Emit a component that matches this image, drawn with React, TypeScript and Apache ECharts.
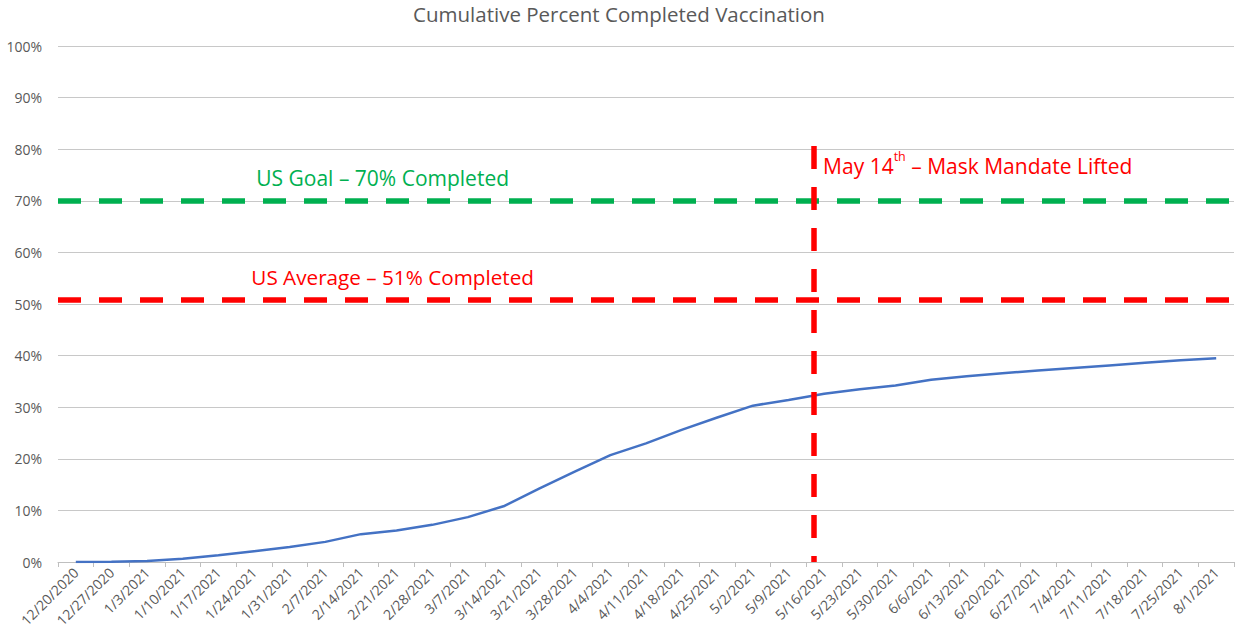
import React, { useEffect, useRef } from "react";
import * as echarts from "echarts";

const categories = [
  "12/20/2020", "12/27/2020", "1/3/2021", "1/10/2021", "1/17/2021", "1/24/2021", "1/31/2021",
  "2/7/2021", "2/14/2021", "2/21/2021", "2/28/2021", "3/7/2021", "3/14/2021", "3/21/2021",
  "3/28/2021", "4/4/2021", "4/11/2021", "4/18/2021", "4/25/2021", "5/2/2021", "5/9/2021",
  "5/16/2021", "5/23/2021", "5/30/2021", "6/6/2021", "6/13/2021", "6/20/2021", "6/27/2021",
  "7/4/2021", "7/11/2021", "7/18/2021", "7/25/2021", "8/1/2021",
];

const completedPct = [
  0, 0.05, 0.2, 0.65, 1.3, 2.1, 2.9, 3.9, 5.4, 6.1, 7.2, 8.7, 10.8, 14.2, 17.5, 20.7, 23.0,
  25.6, 28.0, 30.3, 31.4, 32.6, 33.5, 34.2, 35.3, 36.0, 36.6, 37.1, 37.6, 38.1, 38.6, 39.1, 39.5,
];

const yTicks = [0, 10, 20, 30, 40, 50, 60, 70, 80, 90, 100];

const goalPct = 70;
const averagePct = 50.8;
const maskLiftedIndex = 20 + 5 / 7; // May 14 lies between 5/9 and 5/16
const maskLineTop = 80.6;

const titleText = "Cumulative Percent Completed Vaccination";
const goalText = "US Goal – 70% Completed";
const averageText = "US Average – 51% Completed";

const FONT = "'Open Sans', sans-serif";

export default function App() {
  const ref = useRef<HTMLDivElement>(null);

  useEffect(() => {
    if (!ref.current) return;
    const chart = echarts.init(ref.current, undefined, { renderer: "svg" });
    chart.setOption({
      animation: false,
      backgroundColor: "#ffffff",
      title: {
        text: titleText,
        left: "center",
        top: -2,
        textStyle: { fontFamily: FONT, fontSize: 20.5, fontWeight: "normal", color: "#595959" },
      },
      grid: { left: 58, right: 4, top: 46, bottom: 81, containLabel: false },
      xAxis: [
        {
          type: "category",
          data: categories,
          boundaryGap: true,
          axisLine: { lineStyle: { color: "#bfbfbf", width: 1 } },
          axisTick: { show: true, length: 5, lineStyle: { color: "#bfbfbf" } },
          axisLabel: {
            rotate: 45,
            interval: 0,
            margin: 8,
            fontFamily: FONT,
            fontSize: 14,
            color: "#595959",
          },
          splitLine: { show: false },
        },
        {
          type: "value",
          min: -0.5,
          max: categories.length - 0.5,
          show: false,
          splitLine: { show: false },
        },
      ],
      yAxis: {
        type: "value",
        min: yTicks[0],
        max: yTicks[yTicks.length - 1],
        interval: 10,
        axisLine: { show: false },
        axisTick: { show: false },
        axisLabel: {
          formatter: "{value}%",
          fontFamily: FONT,
          fontSize: 14,
          color: "#595959",
          margin: 16,
        },
        splitLine: { lineStyle: { color: "#c8c8c8", width: 1 } },
      },
      series: [
        {
          type: "line",
          data: completedPct,
          symbol: "none",
          lineStyle: { color: "#4472C4", width: 2.5 },
          z: 3,
          markLine: {
            silent: true,
            symbol: ["none", "none"],
            label: { show: false },
            data: [
              { yAxis: goalPct, lineStyle: { color: "#00B050", width: 5.5, type: [23, 18] } },
              { yAxis: averagePct, lineStyle: { color: "#FF0000", width: 5.5, type: [23, 18] } },
            ],
          },
        },
        {
          type: "scatter",
          xAxisIndex: 1,
          yAxisIndex: 0,
          data: [[maskLiftedIndex, 0]],
          symbolSize: 0,
          silent: true,
          z: 4,
          markLine: {
            silent: true,
            symbol: ["none", "none"],
            label: { show: false },
            data: [
              [
                { coord: [maskLiftedIndex, maskLineTop] },
                { coord: [maskLiftedIndex, 0] },
              ],
            ],
            lineStyle: { color: "#FF0000", width: 5.5, type: [23, 18] },
          },
          markPoint: {
            silent: true,
            symbol: "circle",
            symbolSize: 0,
            data: [
              {
                coord: [8.61, 74.5],
                label: {
                  show: true,
                  position: "inside",
                  formatter: goalText,
                  fontFamily: FONT,
                  fontSize: 21,
                  color: "#00B050",
                },
              },
              {
                coord: [8.89, 55.3],
                label: {
                  show: true,
                  position: "inside",
                  formatter: averageText,
                  fontFamily: FONT,
                  fontSize: 20.7,
                  color: "#FF0000",
                },
              },
              {
                coord: [20.97, 77.3],
                label: {
                  show: true,
                  position: "right",
                  distance: 0,
                  formatter: "{a|May 14}{sup|th}{a| – Mask Mandate Lifted}",
                  rich: {
                    a: { fontFamily: FONT, fontSize: 21, color: "#FF0000", lineHeight: 26, verticalAlign: "bottom" },
                    sup: { fontFamily: FONT, fontSize: 12.5, color: "#FF0000", lineHeight: 26, verticalAlign: "top", padding: [0, 0, 10, 0] },
                  },
                },
              },
            ],
          },
        },
      ],
    });
    return () => chart.dispose();
  }, []);

  return (
    <div
      ref={ref}
      style={{ position: "fixed", left: 0, top: 0, width: 1238, height: 643 }}
    />
  );
}
